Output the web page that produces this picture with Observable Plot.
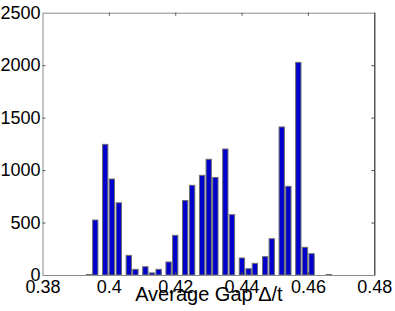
<!DOCTYPE html>
<html>
<head>
<meta charset="utf-8">
<script src="https://cdn.jsdelivr.net/npm/d3@7"></script>
<script src="https://cdn.jsdelivr.net/npm/@observablehq/plot@0.6"></script>
<style>
  html, body { margin: 0; padding: 0; background: #fff; }
  #chart svg { display: block; }
</style>
</head>
<body>
<div id="chart"></div>
<script>
// Bin centers (Average Gap Δ/t) and counts
const binCenters = [0.3940, 0.3959, 0.3989, 0.4009, 0.4030, 0.4060, 0.4080, 0.4110, 0.4130, 0.4150,
                    0.4180, 0.4200, 0.4230, 0.4251, 0.4281, 0.4301, 0.4321, 0.4351, 0.4371, 0.4401,
                    0.4421, 0.4440, 0.4471, 0.4491, 0.4521, 0.4541, 0.4571, 0.4591, 0.4611, 0.4663];
const counts = [5, 524, 1245, 915, 688, 187, 54, 79, 20, 54,
                124, 378, 710, 855, 950, 1103, 930, 1201, 575, 162,
                60, 111, 175, 346, 1411, 845, 2027, 264, 203, 5];
const xTicks = [0.38, 0.40, 0.42, 0.44, 0.46, 0.48];
const xTickLabels = ["0.38", "0.4", "0.42", "0.44", "0.46", "0.48"];
const yTicks = [0, 500, 1000, 1500, 2000, 2500];
const xLabel = "Average Gap \u0394/t";

const W = 395, H = 311;
const mL = 42.5, mR = 20.7, mT = 12.7, mB = 36;
const innerW = W - mL - mR, innerH = H - mT - mB;
const halfBar = 0.0008;
const tickLen = 3;

const bins = binCenters.map((c, i) => ({x1: c - halfBar, x2: c + halfBar, y: counts[i]}));
const font = "'Liberation Sans', Arial, Helvetica, sans-serif";

const chart = Plot.plot({
  width: W,
  height: H,
  marginLeft: mL, marginRight: mR, marginTop: mT, marginBottom: mB,
  style: {fontFamily: font, fontSize: "18px", color: "#000", background: "#fff"},
  x: {domain: [0.38, 0.48]},
  y: {domain: [0, 2500]},
  marks: [
    Plot.rectY(bins, {x1: "x1", x2: "x2", y: "y", fill: "#0000cc", stroke: "#6e6e6e", strokeWidth: 1}),
    Plot.frame({stroke: "#8c8c8c", strokeWidth: 1}),
    Plot.ruleX([0.48], {stroke: "#333", strokeWidth: 1}),
    // inward ticks on all four sides
    Plot.tickX(xTicks.slice(1, -1), {x: d => d, insetTop: innerH - tickLen, stroke: "#555"}),
    Plot.tickX(xTicks.slice(1, -1), {x: d => d, insetBottom: innerH - tickLen, stroke: "#555"}),
    Plot.tickY(yTicks.slice(1, -1), {y: d => d, insetRight: innerW - tickLen, stroke: "#555"}),
    Plot.tickY(yTicks.slice(1, -1), {y: d => d, insetLeft: innerW - tickLen, stroke: "#555"}),
    Plot.axisX(xTicks, {anchor: "bottom", tickSize: 0, tickPadding: 5, label: null,
      tickFormat: (d, i) => xTickLabels[i], fontSize: 18}),
    Plot.axisY(yTicks, {anchor: "left", tickSize: 0, tickPadding: 2.5, label: null,
      tickFormat: d => String(d), fontSize: 18}),
    Plot.text([xLabel], {frameAnchor: "bottom", dy: 25, fontSize: 20, fill: "#000"})
  ]
});
document.getElementById("chart").appendChild(chart);
</script>
</body>
</html>
